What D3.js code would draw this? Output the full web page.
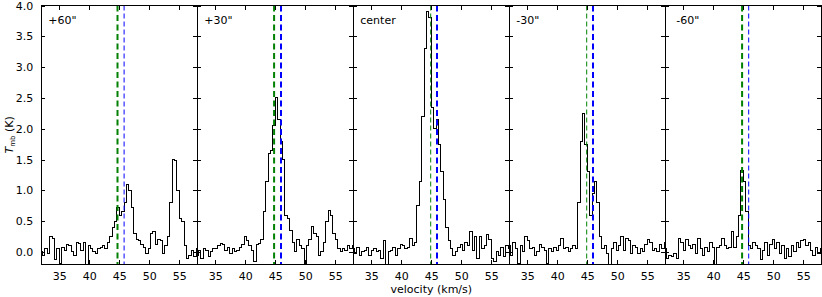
<!DOCTYPE html>
<html>
<head>
<meta charset="utf-8">
<script src="https://cdn.jsdelivr.net/npm/d3@7"></script>
<style>
  body { margin: 0; background: #fff; }
  svg text { font-family: "DejaVu Sans", sans-serif; }
  .frame { fill: none; stroke: #000; stroke-width: 1; shape-rendering: crispEdges; }
  .spec { fill: none; stroke: #000; stroke-width: 1; shape-rendering: crispEdges; }
  .tick line { shape-rendering: crispEdges; }
</style>
</head>
<body>
<div id="chart"></div>
<script>
// channel velocities (km/s)
var velocity = [32.0, 32.4, 32.8, 33.2, 33.6, 34.0, 34.4, 34.8, 35.2, 35.6,
  36.0, 36.4, 36.8, 37.2, 37.6, 38.0, 38.4, 38.8, 39.2, 39.6,
  40.0, 40.4, 40.8, 41.2, 41.6, 42.0, 42.4, 42.8, 43.2, 43.6,
  44.0, 44.4, 44.8, 45.2, 45.6, 46.0, 46.4, 46.8, 47.2, 47.6,
  48.0, 48.4, 48.8, 49.2, 49.6, 50.0, 50.4, 50.8, 51.2, 51.6,
  52.0, 52.4, 52.8, 53.2, 53.6, 54.0, 54.4, 54.8, 55.2, 55.6,
  56.0, 56.4, 56.8, 57.2, 57.6, 58.0];

var panelLabels = ['+60"', '+30"', 'center', '-30"', '-60"'];

// Tmb (K) per position
var specP60 = [0.0, -0.05, 0.05, -0.02, 0.25, 0.22, -0.12, 0.05, -0.18, 0.08,
  0.02, 0.12, 0.1, 0.0, -0.05, 0.15, 0.14, 0.02, 0.15, -0.2,
  0.1, 0.05, 0.0, -0.02, 0.05, 0.08, 0.1, 0.05, 0.15, 0.25,
  0.4, 0.5, 0.72, 0.6, 0.65, 0.8, 1.1, 1.0, 0.72, 0.3,
  0.2, 0.18, 0.12, 0.08, -0.02, 0.05, 0.3, 0.33, 0.12, 0.2,
  0.18, -0.02, 0.1, 0.25, 0.8, 1.5, 1.48, 1.0, 0.55, 0.5,
  0.1, -0.1, -0.05, 0.03, -0.08, 0.05];
var specP30 = [-0.05, 0.02, -0.1, 0.05, 0.03, -0.08, 0.0, 0.05, 0.05, 0.1,
  0.14, 0.12, 0.02, 0.08, -0.02, 0.05, 0.0, 0.03, 0.08, 0.12,
  0.25, 0.18, 0.1, 0.02, -0.15, 0.12, 0.14, 0.2, 0.65, 1.15,
  1.6, 1.65, 2.05, 2.5, 2.15, 1.8, 1.5, 0.6, 0.55, 0.35,
  0.15, 0.0, 0.2, 0.1, 0.05, -0.2, 0.1, 0.2, 0.42, 0.3,
  0.25, -0.05, 0.0, 0.15, 0.5, 0.68, 0.6, 0.3, 0.2, 0.05,
  0.0, 0.05, 0.02, 0.1, 0.05, 0.1];
var specCenter = [0.05, -0.02, 0.08, -0.05, 0.0, 0.03, 0.08, -0.05, 0.02, 0.05,
  0.0, 0.02, -0.1, 0.18, -0.2, 0.0, 0.03, 0.08, -0.05, 0.05,
  0.12, 0.1, 0.05, 0.08, 0.22, 0.1, 0.15, 0.75, 1.15, 2.2,
  3.3, 3.9, 3.8, 2.35, 2.0, 2.15, 1.75, 1.3, 0.85, 0.4,
  0.18, 0.05, -0.05, 0.0, 0.08, 0.12, 0.03, 0.15, 0.1, 0.33,
  0.02, 0.25, -0.1, 0.25, 0.05, 0.1, 0.28, 0.2, -0.1, -0.15,
  0.0, -0.05, 0.08, -0.08, 0.1, 0.05];
var specM30 = [0.1, -0.05, 0.15, 0.05, -0.18, 0.1, 0.0, 0.25, 0.18, 0.05,
  0.08, -0.05, 0.0, 0.12, 0.08, 0.02, -0.18, 0.05, 0.0, 0.08,
  0.02, 0.1, 0.22, 0.05, 0.08, 0.0, 0.05, 0.1, 0.05, 0.8,
  1.8, 2.25, 1.75, 1.3, 0.6, 0.95, 1.15, 0.8, 0.25, 0.05,
  0.1, -0.02, -0.2, 0.05, 0.15, 0.02, 0.1, 0.25, 0.02, 0.22,
  0.18, -0.03, 0.1, 0.08, -0.02, 0.05, 0.0, 0.12, 0.2, 0.15,
  0.02, 0.05, 0.0, 0.12, 0.05, 0.15];
var specM60 = [0.05, -0.1, -0.05, -0.08, -0.03, -0.1, 0.22, 0.15, 0.02, 0.2,
  0.1, 0.05, 0.12, -0.02, 0.22, 0.05, -0.05, 0.08, 0.0, 0.15,
  0.08, -0.2, 0.08, 0.1, 0.22, 0.1, 0.05, 0.08, 0.33, 0.08,
  0.25, 0.6, 1.33, 1.15, 0.65, 0.1, 0.05, 0.15, 0.1, 0.05,
  -0.12, 0.02, 0.15, -0.05, 0.12, 0.2, 0.05, 0.15, -0.02, 0.1,
  -0.1, 0.05, -0.08, 0.1, 0.0, 0.15, 0.08, 0.18, 0.2, 0.1,
  0.15, 0.02, -0.05, 0.08, -0.02, 0.05];

var spectra = [specP60, specP30, specCenter, specM30, specM60];

// reference velocities (dashed lines)
var greenVel = [44.7, 44.8, 44.9, 44.9, 44.8];
var blueVel = [45.8, 45.95, 45.95, 45.95, 45.9];
var greenWidth = [2, 2, 1, 1, 2];
var blueWidth = [1, 2, 2, 2, 1];

var xTicks = [35, 40, 45, 50, 55];
var yTicks = [0.0, 0.5, 1.0, 1.5, 2.0, 2.5, 3.0, 3.5, 4.0];

var margin = {top: 5.5, left: 41.3},
    panelW = 156,
    panelH = 258.8;

var svg = d3.select("#chart").append("svg")
    .attr("width", 822)
    .attr("height", 297);

var x = d3.scaleLinear().domain([32, 58]).range([0, panelW]);
var y = d3.scaleLinear().domain([-0.2, 4.0]).range([panelH, 0]);

var line = d3.line()
    .x(function(d) { return x(d[0]); })
    .y(function(d) { return y(d[1]); })
    .curve(d3.curveStep);

svg.append("defs").append("clipPath")
    .attr("id", "clipPanel")
  .append("rect")
    .attr("width", panelW)
    .attr("height", panelH);

spectra.forEach(function(spec, p) {
  var g = svg.append("g")
      .attr("transform", "translate(" + (margin.left + p * panelW) + "," + margin.top + ")");

  var pts = velocity.map(function(v, i) { return [v, spec[i]]; });

  g.append("g")
      .attr("clip-path", "url(#clipPanel)")
    .append("path")
      .datum(pts)
      .attr("class", "spec")
      .attr("d", line);

  // dashed reference lines
  g.append("line")
      .attr("x1", x(greenVel[p])).attr("x2", x(greenVel[p]))
      .attr("y1", 0).attr("y2", panelH)
      .attr("stroke", "#008000")
      .attr("stroke-width", greenWidth[p])
      .attr("stroke-dasharray", greenWidth[p] > 1 ? "6,3.5" : "5,3");
  g.append("line")
      .attr("x1", x(blueVel[p])).attr("x2", x(blueVel[p]))
      .attr("y1", 0).attr("y2", panelH)
      .attr("stroke", "#0000ff")
      .attr("stroke-width", blueWidth[p])
      .attr("stroke-dasharray", blueWidth[p] > 1 ? "6,3.5" : "5,3");

  // bottom axis with labels, ticks inward
  g.append("g")
      .attr("transform", "translate(0," + panelH + ")")
      .call(d3.axisBottom(x).tickValues(xTicks).tickSize(-4).tickPadding(8).tickFormat(d3.format("d")))
      .call(function(a) {
        a.select(".domain").remove();
        a.selectAll("text").attr("font-size", 11).attr("font-family", "DejaVu Sans");
      });
  // top ticks
  g.append("g")
      .call(d3.axisTop(x).tickValues(xTicks).tickSize(-4).tickFormat(""))
      .call(function(a) { a.select(".domain").remove(); });
  // right ticks
  g.append("g")
      .attr("transform", "translate(" + panelW + ",0)")
      .call(d3.axisRight(y).tickValues(yTicks).tickSize(-4).tickFormat(""))
      .call(function(a) { a.select(".domain").remove(); });
  // left ticks (labels on first panel only)
  g.append("g")
      .call(d3.axisLeft(y).tickValues(yTicks).tickSize(-4).tickPadding(8)
        .tickFormat(p === 0 ? d3.format(".1f") : ""))
      .call(function(a) {
        a.select(".domain").remove();
        a.selectAll("text").attr("font-size", 11).attr("font-family", "DejaVu Sans");
      });

  g.append("rect")
      .attr("class", "frame")
      .attr("width", panelW)
      .attr("height", panelH);

  g.append("text")
      .attr("x", p === 4 ? 11 : 7)
      .attr("y", 18)
      .attr("font-size", 11)
      .text(panelLabels[p]);
});

// axis titles
svg.append("text")
    .attr("x", margin.left + 2.5 * panelW)
    .attr("y", 293)
    .attr("text-anchor", "middle")
    .attr("font-size", 11)
    .text("velocity (km/s)");

var yl = svg.append("text")
    .attr("transform", "translate(13," + (margin.top + panelH / 2) + ") rotate(-90)")
    .attr("text-anchor", "middle")
    .attr("font-size", 11);
yl.append("tspan").attr("font-style", "italic").text("T");
yl.append("tspan").attr("font-size", 7).attr("dy", 2).text("mb");
yl.append("tspan").attr("dy", -2).text(" (K)");
</script>
</body>
</html>
